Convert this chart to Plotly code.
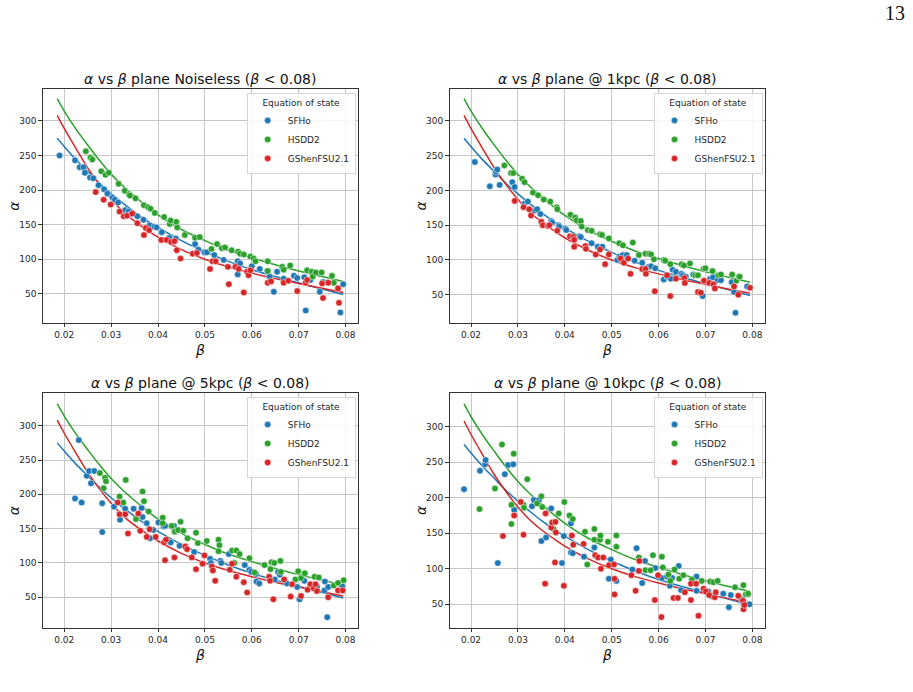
import plotly.graph_objects as go

W, H = 913, 692

# ---------------- fitted curves (shared by all panels) ----------------
fit_beta = [0.0185, 0.02, 0.0225, 0.025, 0.0275, 0.03, 0.0325, 0.035, 0.0375, 0.04,
            0.045, 0.05, 0.055, 0.06, 0.065, 0.07, 0.075, 0.0795]
fit_sfho = [275, 263, 244, 227, 210, 195, 181, 168, 156, 146,
            127, 111, 97, 85, 75, 66, 57, 49]
fit_hsdd2 = [332, 314, 288, 265, 243, 223, 206, 191, 177, 164,
             143, 127, 113, 102, 92, 83, 75, 68]
fit_gshen = [308, 289, 260, 232, 208, 187, 169, 155, 143, 132,
             114, 100, 89, 80, 72, 65, 58, 52]

# ---------------- Panel 1: Noiseless ----------------
p1_sfho_beta = [0.019, 0.0223, 0.0233, 0.0241, 0.0244, 0.0255, 0.0262, 0.0273, 0.0285, 0.0292,
                0.0303, 0.0308, 0.0315, 0.033, 0.0337, 0.0342, 0.0356, 0.0369, 0.0382, 0.0392,
                0.0397, 0.0408, 0.0424, 0.0438, 0.0479, 0.0486, 0.0499, 0.0504, 0.052, 0.054,
                0.057, 0.057, 0.0575, 0.06, 0.0617, 0.0633, 0.0638, 0.0647, 0.0654, 0.0668,
                0.069, 0.0697, 0.0712, 0.0715, 0.0725, 0.0745, 0.0752, 0.0789, 0.0795]
p1_sfho_alpha = [250, 243, 233, 233, 225, 218, 217, 207, 201, 195,
                 189, 186, 182, 171, 169, 165, 162, 157, 149, 147,
                 146, 139, 131, 130, 122, 114, 110, 110, 106, 99,
                 97, 78, 94, 90, 86, 83, 75, 53, 82, 72,
                 76, 73, 74, 26, 70, 53, 67, 23, 64]
p1_hsdd2_beta = [0.0246, 0.0256, 0.026, 0.0279, 0.0288, 0.0295, 0.0316, 0.0329, 0.0338, 0.034,
                 0.0352, 0.037, 0.0379, 0.0384, 0.0393, 0.0413, 0.0425, 0.0427, 0.0439, 0.0441,
                 0.0457, 0.0479, 0.0489, 0.0514, 0.0526, 0.0536, 0.0543, 0.0557, 0.0571, 0.0575,
                 0.0583, 0.0597, 0.0604, 0.0608, 0.0634, 0.0634, 0.0665, 0.0668, 0.0682, 0.0718,
                 0.0728, 0.073, 0.0737, 0.0749, 0.0771, 0.0775]
p1_hsdd2_alpha = [256, 247, 244, 227, 222, 225, 209, 199, 194, 192,
                  188, 178, 175, 173, 167, 161, 151, 156, 154, 146,
                  135, 131, 132, 115, 122, 116, 117, 113, 111, 108,
                  107, 104, 101, 97, 97, 83, 89, 85, 91, 84,
                  82, 75, 81, 81, 76, 66]
p1_gshen_beta = [0.0267, 0.0284, 0.0299, 0.0318, 0.0327, 0.0334, 0.0345, 0.0356, 0.037, 0.0374,
                 0.0381, 0.0407, 0.0418, 0.0428, 0.0435, 0.044, 0.0448, 0.0474, 0.0483, 0.0511,
                 0.0516, 0.0523, 0.0549, 0.0551, 0.0565, 0.0572, 0.0583, 0.059, 0.0593, 0.0597,
                 0.0634, 0.0641, 0.0668, 0.0678, 0.0697, 0.0715, 0.0718, 0.075, 0.0752, 0.0763,
                 0.0784, 0.0786]
p1_gshen_alpha = [197, 186, 179, 169, 162, 163, 166, 152, 135, 145,
                  142, 128, 128, 125, 126, 113, 101, 108, 109, 86,
                  97, 97, 89, 64, 89, 86, 52, 82, 77, 84,
                  66, 68, 66, 69, 54, 66, 70, 65, 44, 66,
                  58, 37]

# ---------------- Panel 2: 1 kpc ----------------
p2_sfho_beta = [0.0208, 0.024, 0.0252, 0.0253, 0.0256, 0.0261, 0.0288, 0.0293, 0.0314, 0.0321,
                0.0336, 0.0341, 0.0348, 0.0371, 0.0373, 0.0387, 0.0388, 0.0401, 0.0403, 0.0431,
                0.0434, 0.0457, 0.047, 0.048, 0.0512, 0.0517, 0.0524, 0.0532, 0.0549, 0.0565,
                0.0571, 0.0579, 0.0584, 0.0593, 0.0611, 0.0618, 0.0626, 0.063, 0.0637, 0.0649,
                0.0652, 0.0658, 0.0674, 0.0694, 0.071, 0.0716, 0.0726, 0.0733, 0.0756, 0.0761,
                0.0764, 0.0789]
p2_sfho_alpha = [241, 206, 223, 227, 230, 208, 212, 205, 181, 184,
                 171, 173, 166, 156, 154, 150, 148, 145, 143, 134,
                 133, 124, 119, 119, 100, 105, 107, 107, 99, 96,
                 87, 90, 91, 88, 72, 76, 73, 86, 83, 80,
                 78, 76, 79, 48, 73, 75, 71, 71, 68, 54,
                 24, 62]
p2_hsdd2_beta = [0.0271, 0.0285, 0.029, 0.0309, 0.0314, 0.0332, 0.0343, 0.0355, 0.0369, 0.0383,
                 0.0384, 0.0412, 0.0422, 0.0425, 0.0434, 0.0436, 0.0449, 0.0457, 0.0475, 0.0479,
                 0.0494, 0.0516, 0.0524, 0.0545, 0.0558, 0.0572, 0.058, 0.0584, 0.059, 0.0611,
                 0.0614, 0.0625, 0.0649, 0.0654, 0.0667, 0.0678, 0.0684, 0.0696, 0.07, 0.0715,
                 0.0728, 0.0733, 0.0757, 0.0766, 0.0771, 0.0773]
p2_hsdd2_alpha = [236, 225, 225, 217, 212, 197, 193, 187, 184, 176,
                  173, 165, 161, 157, 156, 148, 143, 142, 137, 136,
                  131, 124, 121, 125, 107, 109, 109, 108, 101, 100,
                  99, 94, 94, 92, 95, 78, 78, 87, 88, 84,
                  78, 79, 79, 70, 76, 76]
p2_gshen_beta = [0.0293, 0.0312, 0.0324, 0.0328, 0.035, 0.0353, 0.0364, 0.0367, 0.0384, 0.0411,
                 0.0418, 0.042, 0.042, 0.0444, 0.0445, 0.0466, 0.0475, 0.0486, 0.0494, 0.0519,
                 0.0526, 0.0535, 0.054, 0.0565, 0.0572, 0.0573, 0.0592, 0.0618, 0.0625, 0.0637,
                 0.0655, 0.0656, 0.0684, 0.069, 0.0696, 0.0697, 0.0708, 0.0717, 0.072, 0.0761,
                 0.077, 0.0795]
p2_gshen_alpha = [185, 176, 173, 164, 155, 150, 149, 150, 142, 134,
                  133, 129, 119, 120, 116, 108, 115, 94, 108, 102,
                  96, 102, 80, 87, 87, 80, 55, 78, 48, 73,
                  74, 67, 54, 53, 70, 70, 67, 65, 59, 62,
                  50, 60]

# ---------------- Panel 3: 5 kpc ----------------
p3_sfho_beta = [0.0223, 0.0231, 0.0237, 0.0248, 0.0253, 0.0257, 0.0264, 0.0281, 0.0281, 0.0306,
                0.0319, 0.033, 0.0348, 0.0365, 0.0367, 0.0376, 0.0383, 0.039, 0.0401, 0.0412,
                0.0415, 0.0427, 0.0434, 0.0446, 0.0459, 0.0477, 0.0511, 0.0513, 0.0533, 0.0535,
                0.0551, 0.0561, 0.0585, 0.0595, 0.0599, 0.0609, 0.061, 0.0616, 0.0638, 0.0649,
                0.0656, 0.066, 0.0675, 0.0697, 0.0702, 0.0712, 0.0725, 0.0739, 0.0755, 0.0756,
                0.0761, 0.0763, 0.0793]
p3_sfho_alpha = [194, 279, 188, 227, 234, 216, 234, 187, 145, 182,
                 163, 179, 179, 180, 167, 158, 136, 148, 159, 153,
                 154, 130, 154, 125, 124, 116, 106, 100, 103, 100,
                 113, 100, 97, 90, 87, 84, 73, 70, 76, 76,
                 87, 83, 70, 65, 47, 74, 65, 65, 60, 73,
                 21, 65, 66]
p3_hsdd2_beta = [0.0276, 0.0284, 0.0287, 0.0289, 0.0318, 0.0326, 0.0331, 0.0353, 0.0367, 0.037,
                 0.038, 0.041, 0.041, 0.0429, 0.0435, 0.0436, 0.0443, 0.0448, 0.0454, 0.0463,
                 0.0481, 0.0485, 0.0504, 0.0529, 0.0531, 0.0529, 0.0558, 0.0563, 0.0567, 0.0574,
                 0.0595, 0.0606, 0.0627, 0.064, 0.0642, 0.0648, 0.0661, 0.0662, 0.0693, 0.0699,
                 0.0705, 0.0713, 0.0734, 0.0743, 0.0775, 0.0784, 0.0796]
p3_hsdd2_alpha = [231, 209, 224, 219, 197, 188, 221, 164, 204, 190,
                  175, 166, 158, 154, 145, 146, 148, 160, 147, 136,
                  144, 129, 132, 134, 126, 117, 118, 100, 118, 113,
                  107, 86, 97, 91, 101, 100, 103, 87, 76, 88,
                  78, 85, 80, 79, 67, 71, 75]
p3_gshen_beta = [0.0314, 0.0318, 0.033, 0.0336, 0.0358, 0.0362, 0.0376, 0.0382, 0.0395, 0.0413,
                 0.0415, 0.0417, 0.0435, 0.0458, 0.0462, 0.0472, 0.0481, 0.0495, 0.0499, 0.0515,
                 0.0517, 0.0522, 0.0553, 0.0558, 0.0567, 0.0583, 0.059, 0.0637, 0.0639, 0.0646,
                 0.0669, 0.0683, 0.0686, 0.0705, 0.0719, 0.0725, 0.0732, 0.0736, 0.0739, 0.0763,
                 0.0784, 0.0794]
p3_gshen_alpha = [188, 171, 171, 143, 172, 147, 138, 149, 138, 130,
                  104, 134, 108, 124, 120, 108, 91, 99, 111, 95,
                  89, 74, 90, 99, 80, 72, 57, 80, 74, 47,
                  76, 51, 69, 52, 61, 69, 63, 69, 59, 50,
                  60, 60]

# ---------------- Panel 4: 10 kpc ----------------
p4_sfho_beta = [0.0185, 0.0219, 0.023, 0.0231, 0.0257, 0.0272, 0.0279, 0.029, 0.0292, 0.033,
                0.0334, 0.0345, 0.035, 0.036, 0.0371, 0.0394, 0.0398, 0.0413, 0.0413, 0.0417,
                0.0441, 0.0463, 0.0494, 0.0498, 0.051, 0.0544, 0.0553, 0.0565, 0.0571, 0.0593,
                0.0607, 0.0618, 0.0624, 0.0629, 0.0643, 0.0648, 0.0681, 0.0681, 0.0706, 0.0713,
                0.0715, 0.0738, 0.075, 0.0754, 0.0777, 0.0781, 0.0791, 0.0794]
p4_sfho_alpha = [212, 238, 247, 253, 108, 233, 246, 247, 183, 188,
                 197, 197, 139, 144, 185, 108, 146, 164, 123, 122,
                 117, 130, 86, 113, 83, 99, 129, 80, 111, 101,
                 87, 89, 76, 87, 104, 70, 89, 69, 68, 62,
                 61, 65, 46, 63, 57, 51, 64, 50]
p4_hsdd2_beta = [0.0218, 0.0251, 0.0266, 0.0286, 0.0286, 0.0291, 0.0312, 0.0313, 0.032, 0.0341,
                 0.035, 0.0352, 0.0376, 0.0387, 0.0399, 0.041, 0.0417, 0.0443, 0.0448, 0.0463,
                 0.0463, 0.0475, 0.0476, 0.0492, 0.051, 0.051, 0.0558, 0.0572, 0.0583, 0.0588,
                 0.0607, 0.0609, 0.0621, 0.0625, 0.0634, 0.0644, 0.0653, 0.0671, 0.0692, 0.071,
                 0.0717, 0.0726, 0.0763, 0.0781, 0.0786, 0.0791]
p4_hsdd2_alpha = [184, 213, 275, 163, 190, 262, 190, 186, 226, 192,
                  202, 187, 156, 178, 194, 175, 170, 152, 106, 156,
                  141, 141, 147, 138, 147, 131, 116, 98, 98, 119,
                  117, 102, 92, 83, 99, 86, 91, 85, 83, 82,
                  81, 83, 74, 77, 64, 65]
p4_gshen_beta = [0.0268, 0.0292, 0.0306, 0.0312, 0.0358, 0.0359, 0.0371, 0.0373, 0.0379, 0.038,
                 0.0381, 0.0398, 0.0415, 0.0418, 0.044, 0.0465, 0.0471, 0.0477, 0.0482, 0.0494,
                 0.0505, 0.0506, 0.0506, 0.0542, 0.0551, 0.0558, 0.0559, 0.0592, 0.0599, 0.0606,
                 0.0632, 0.0641, 0.0656, 0.0669, 0.0669, 0.068, 0.0685, 0.0696, 0.0701, 0.0708,
                 0.072, 0.0722, 0.077, 0.078, 0.0781, 0.0783]
p4_gshen_alpha = [146, 175, 194, 148, 79, 178, 158, 165, 109, 166,
                  151, 76, 147, 134, 135, 119, 116, 100, 116, 105,
                  106, 86, 64, 91, 69, 97, 111, 56, 91, 32,
                  59, 59, 67, 79, 56, 79, 34, 72, 68, 63,
                  60, 67, 62, 55, 43, 49]

titles = [
    "<i>α</i> vs <i>β</i> plane Noiseless (<i>β</i> &lt; 0.08)",
    "<i>α</i> vs <i>β</i> plane @ 1kpc (<i>β</i> &lt; 0.08)",
    "<i>α</i> vs <i>β</i> plane @ 5kpc (<i>β</i> &lt; 0.08)",
    "<i>α</i> vs <i>β</i> plane @ 10kpc (<i>β</i> &lt; 0.08)",
]
x_label = "<i>β</i>"
y_label = "<i>α</i>"
series_names = ["SFHo", "HSDD2", "GShenFSU2.1"]
colors = ["#1f77b4", "#2ca02c", "#d62728"]
x_ticks = [0.02, 0.03, 0.04, 0.05, 0.06, 0.07, 0.08]
y_ticks = [50, 100, 150, 200, 250, 300]

panel_data = [
    [(p1_sfho_beta, p1_sfho_alpha), (p1_hsdd2_beta, p1_hsdd2_alpha), (p1_gshen_beta, p1_gshen_alpha)],
    [(p2_sfho_beta, p2_sfho_alpha), (p2_hsdd2_beta, p2_hsdd2_alpha), (p2_gshen_beta, p2_gshen_alpha)],
    [(p3_sfho_beta, p3_sfho_alpha), (p3_hsdd2_beta, p3_hsdd2_alpha), (p3_gshen_beta, p3_gshen_alpha)],
    [(p4_sfho_beta, p4_sfho_alpha), (p4_hsdd2_beta, p4_hsdd2_alpha), (p4_gshen_beta, p4_gshen_alpha)],
]
fits = [fit_sfho, fit_hsdd2, fit_gshen]

# layout geometry (pixels)
x_px = [(42.7, 358.2), (449.5, 765.0), (42.7, 358.2), (449.5, 765.0)]
y_px = [(89.2, 322.8), (89.2, 322.8), (393.3, 627.7), (393.3, 627.7)]
y_ranges = [(8.2, 345.7), (9.6, 345.7), (5.7, 347.2), (17.1, 347.0)]
x_range = (0.0154, 0.0827)

FONT = "DejaVu Sans"
fig = go.Figure()
layout = dict(
    width=W, height=H, margin=dict(l=0, r=0, t=0, b=0),
    paper_bgcolor="white", plot_bgcolor="white",
    font=dict(family=FONT, color="#262626", size=9),
    annotations=[],
)

for i in range(4):
    sfx = "" if i == 0 else str(i + 1)
    xa, ya = "x" + sfx, "y" + sfx
    leg = "legend" + sfx
    for k in range(3):
        fig.add_trace(go.Scatter(
            x=fit_beta, y=fits[k], mode="lines",
            line=dict(color=colors[k], width=1.5, shape="spline", smoothing=1.0),
            xaxis=xa, yaxis=ya, showlegend=False, hoverinfo="skip"))
    for k in range(3):
        bx, ay = panel_data[i][k]
        fig.add_trace(go.Scatter(
            x=bx, y=ay, mode="markers", name=series_names[k],
            marker=dict(color=colors[k], size=6.5, line=dict(color="white", width=0.5)),
            xaxis=xa, yaxis=ya, legend=leg, showlegend=True))

    x0, x1 = x_px[i]
    y0, y1 = y_px[i]
    axis_common = dict(
        showline=True, mirror=True, linecolor="#333333", linewidth=1,
        ticks="outside", ticklen=3.5, tickwidth=0.8, tickcolor="#333333",
        showgrid=True, gridcolor="#c6c6c6", gridwidth=1, zeroline=False,
        tickfont=dict(family=FONT, size=9, color="#262626"),
    )
    layout["xaxis" + sfx] = dict(
        axis_common, domain=[x0 / W, x1 / W], range=list(x_range), anchor=ya,
        tickvals=x_ticks, ticktext=[f"{v:.2f}" for v in x_ticks],
    )
    layout["yaxis" + sfx] = dict(
        axis_common, domain=[1 - y1 / H, 1 - y0 / H], range=list(y_ranges[i]), anchor=xa,
        tickvals=y_ticks,
    )
    layout[leg] = dict(
        x=(x1 - 2.5) / W, xanchor="right", y=1 - (y0 + 4) / H, yanchor="top",
        title=dict(text="Equation of state", side="top center", font=dict(family=FONT, size=9, color="#262626")),
        font=dict(family=FONT, size=9, color="#262626"),
        bgcolor="rgba(255,255,255,0.85)", bordercolor="#d5d5d5", borderwidth=1,
        itemwidth=30, tracegroupgap=0,
    )
    # subplot title
    layout["annotations"].append(dict(
        text=titles[i], xref="paper", yref="paper", x=(x0 + x1) / 2 / W, y=1 - (y0 - 10.5) / H,
        xanchor="center", yanchor="middle", showarrow=False,
        font=dict(family=FONT, size=14, color="#111111")))
    # axis titles
    layout["annotations"].append(dict(
        text=x_label, xref="paper", yref="paper", x=(x0 + x1) / 2 / W, y=1 - (y1 + 18) / H,
        xanchor="center", yanchor="top", showarrow=False, borderpad=0,
        font=dict(family=FONT, size=14, color="#111111")))
    layout["annotations"].append(dict(
        text=y_label, xref="paper", yref="paper", x=(x0 - 29) / W, y=1 - (y0 + y1) / 2 / H,
        xanchor="center", yanchor="middle", showarrow=False, textangle=-90,
        font=dict(family=FONT, size=14, color="#111111")))

# page number
layout["annotations"].append(dict(
    text="13", xref="paper", yref="paper", x=895 / W, y=1 - 13 / H, xanchor="center", yanchor="middle",
    showarrow=False, font=dict(family="Liberation Serif", size=20, color="#111111")))

fig.update_layout(**layout)
fig.write_html("out.html")
